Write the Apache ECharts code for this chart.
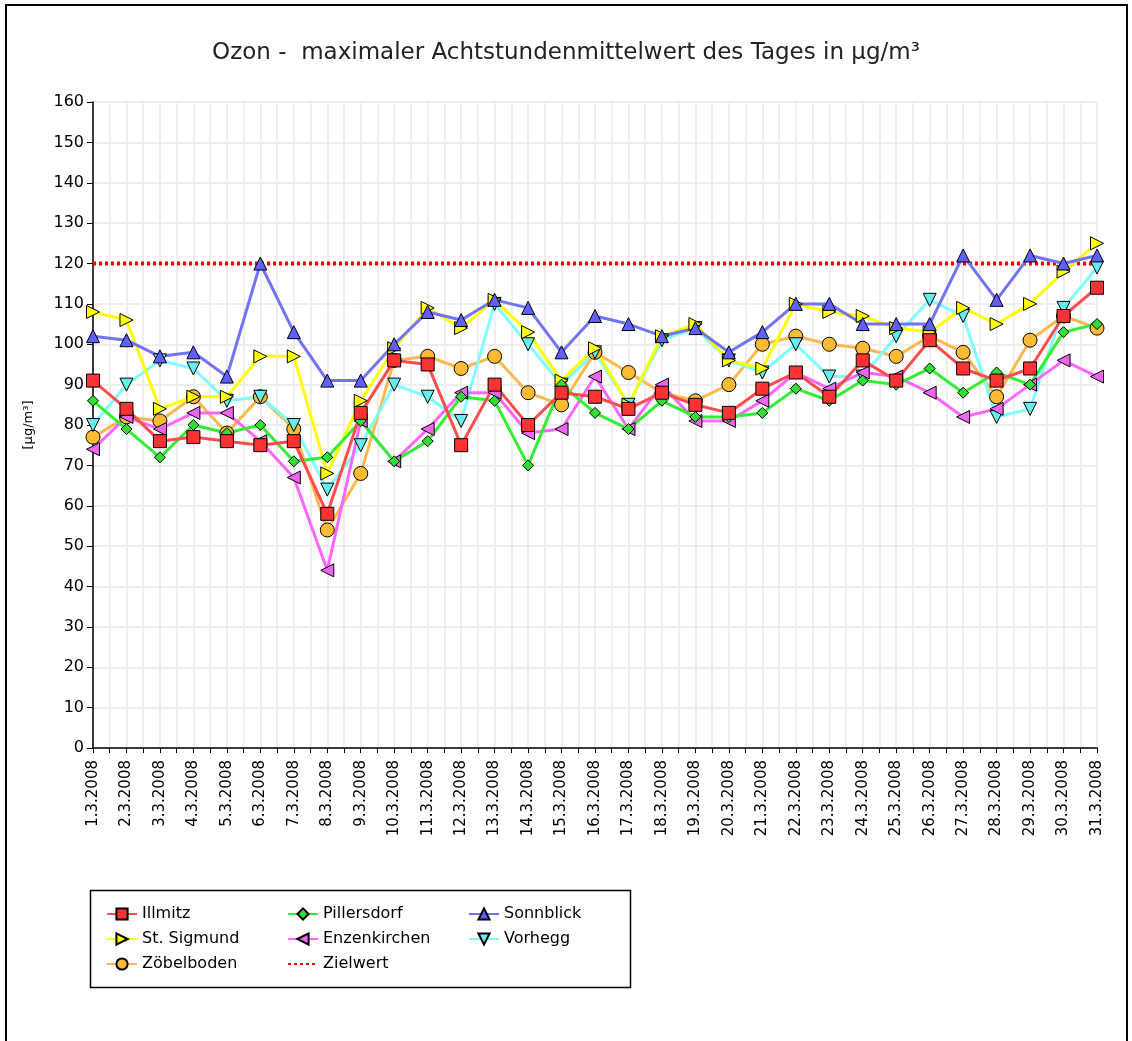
<!DOCTYPE html>
<html>
<head>
<meta charset="utf-8">
<script src="https://cdn.jsdelivr.net/npm/echarts@6.0.0/dist/echarts.min.js"></script>
<style>
    html, body {margin: 0; padding: 0; background: #fff;}
    #chart {width: 1132px; height: 1041px;}
</style>
</head>
<body>
<div id="chart"></div>
<script>
    // Tage (Kategorien)
    const days = ['1.3.2008', '2.3.2008', '3.3.2008', '4.3.2008', '5.3.2008', '6.3.2008', '7.3.2008', '8.3.2008',
        '9.3.2008', '10.3.2008', '11.3.2008', '12.3.2008', '13.3.2008', '14.3.2008', '15.3.2008', '16.3.2008',
        '17.3.2008', '18.3.2008', '19.3.2008', '20.3.2008', '21.3.2008', '22.3.2008', '23.3.2008', '24.3.2008',
        '25.3.2008', '26.3.2008', '27.3.2008', '28.3.2008', '29.3.2008', '30.3.2008', '31.3.2008'];

    // Messwerte je Station (µg/m³)
    const illmitz = [91, 84, 76, 77, 76, 75, 76, 58, 83, 96, 95, 75, 90, 80, 88, 87, 84, 88, 85, 83, 89, 93, 87, 96, 91, 101, 94, 91, 94, 107, 114];
    const pillersdorf = [86, 79, 72, 80, 78, 80, 71, 72, 81, 71, 76, 87, 86, 70, 90, 83, 79, 86, 82, 82, 83, 89, 86, 91, 90, 94, 88, 93, 90, 103, 105];
    const sonnblick = [102, 101, 97, 98, 92, 120, 103, 91, 91, 100, 108, 106, 111, 109, 98, 107, 105, 102, 104, 98, 103, 110, 110, 105, 105, 105, 122, 111, 122, 120, 122];
    const stSigmund = [108, 106, 84, 87, 87, 97, 97, 68, 86, 99, 109, 104, 111, 103, 91, 99, 85, 102, 105, 96, 94, 110, 108, 107, 104, 103, 109, 105, 110, 118, 125];
    const enzenkirchen = [74, 82, 79, 83, 83, 76, 67, 44, 81, 71, 79, 88, 88, 78, 79, 92, 79, 90, 81, 81, 86, 93, 89, 93, 92, 88, 82, 84, 90, 96, 92];
    const vorhegg = [80, 90, 96, 94, 86, 87, 80, 64, 75, 90, 87, 81, 110, 100, 90, 98, 85, 101, 104, 96, 93, 100, 92, 92, 102, 111, 107, 82, 84, 109, 119];
    const zoebelboden = [77, 82, 81, 87, 78, 87, 79, 54, 68, 96, 97, 94, 97, 88, 85, 98, 93, 88, 86, 90, 100, 102, 100, 99, 97, 102, 98, 87, 101, 107, 104];
    const zielwert = 120;

    // Achsenteilung
    const yTicks = {min: 0, max: 160, interval: 10};

    const chart = echarts.init(document.getElementById('chart'));
    const font = '"DejaVu Sans", Verdana, sans-serif';

    const pts = arr => arr.map((v, i) => [i, v]);

    const S = (name, values, symbol, size, rotate, line, fill) => ({
        name, type: 'line', data: pts(values),
        symbol, symbolSize: size, symbolRotate: rotate,
        lineStyle: {color: line, width: 3},
        itemStyle: {color: fill, borderColor: '#000', borderWidth: 1},
        emphasis: {disabled: true}, animation: false
    });

    const legendBase = {
        orient: 'vertical', itemWidth: 30, itemHeight: 14, itemGap: 9, top: 901,
        textStyle: {color: '#000', fontSize: 16, fontFamily: font}, selectedMode: false
    };

    chart.setOption({
        backgroundColor: '#fff',
        textStyle: {fontFamily: font},
        title: {
            text: 'Ozon -  maximaler Achtstundenmittelwert des Tages in µg/m³',
            left: 'center', top: 37,
            textStyle: {fontSize: 23, fontWeight: 'normal', color: '#222', fontFamily: font}
        },
        legend: [
            Object.assign({left: 101, data: ['Illmitz', 'St. Sigmund', 'Zöbelboden']}, legendBase),
            Object.assign({left: 282, data: ['Pillersdorf', 'Enzenkirchen', {name: 'Zielwert', itemStyle: {opacity: 0}}]}, legendBase),
            Object.assign({left: 463, data: ['Sonnblick', 'Vorhegg']}, legendBase)
        ],
        grid: {left: 93, right: 35, top: 102, bottom: 293},
        xAxis: {
            type: 'value', min: 0, max: days.length - 1, interval: 1,
            axisLine: {lineStyle: {color: '#000', width: 1.5}},
            axisTick: {show: true, length: 5, lineStyle: {color: '#000'}},
            minorTick: {show: true, splitNumber: 2, length: 5, lineStyle: {color: '#000'}},
            axisLabel: {
                rotate: 90, fontSize: 15, color: '#000', margin: 12,
                formatter: v => days[v] || ''
            },
            splitLine: {show: true, lineStyle: {color: '#eeeeee', width: 2}},
            minorSplitLine: {show: true, lineStyle: {color: '#eeeeee', width: 2}}
        },
        yAxis: {
            type: 'value', min: yTicks.min, max: yTicks.max, interval: yTicks.interval,
            name: '[µg/m³]', nameLocation: 'middle', nameGap: 58, nameRotate: 90,
            nameTextStyle: {fontSize: 13, color: '#000'},
            axisLine: {show: true, lineStyle: {color: '#000', width: 1.5}},
            axisTick: {show: true, length: 6, lineStyle: {color: '#000'}},
            axisLabel: {fontSize: 16, color: '#000', margin: 9},
            splitLine: {lineStyle: {color: '#eeeeee', width: 2}}
        },
        graphic: [
            {type: 'rect', shape: {x: 6, y: 5, width: 1121, height: 1050}, style: {fill: 'none', stroke: '#000', lineWidth: 2}, silent: true},
            {type: 'rect', shape: {x: 90.5, y: 890.5, width: 540, height: 97}, style: {fill: 'none', stroke: '#000', lineWidth: 1.5}, silent: true}
        ],
        series: [
            {
                name: 'Zielwert', type: 'line', data: pts(days.map(() => zielwert)),
                symbol: 'none', lineStyle: {color: '#ff0000', width: 4, type: [3, 3]},
                itemStyle: {color: '#ff0000'}, emphasis: {disabled: true}, animation: false
            },
            S('Zöbelboden', zoebelboden, 'circle', 14, 0, '#ffb84d', '#ffbb33'),
            S('Vorhegg', vorhegg, 'triangle', 13, 180, '#80ffff', '#66eeee'),
            S('Enzenkirchen', enzenkirchen, 'triangle', 13, 90, '#ff66ff', '#ee66ee'),
            S('St. Sigmund', stSigmund, 'triangle', 13, -90, '#ffff00', '#ffff00'),
            S('Sonnblick', sonnblick, 'triangle', 13, 0, '#7373f5', '#6060ff'),
            S('Pillersdorf', pillersdorf, 'diamond', 11, 0, '#33ee33', '#33dd33'),
            S('Illmitz', illmitz, 'rect', 13, 0, '#ff4d4d', '#ff3333')
        ]
    });
</script>
</body>
</html>
